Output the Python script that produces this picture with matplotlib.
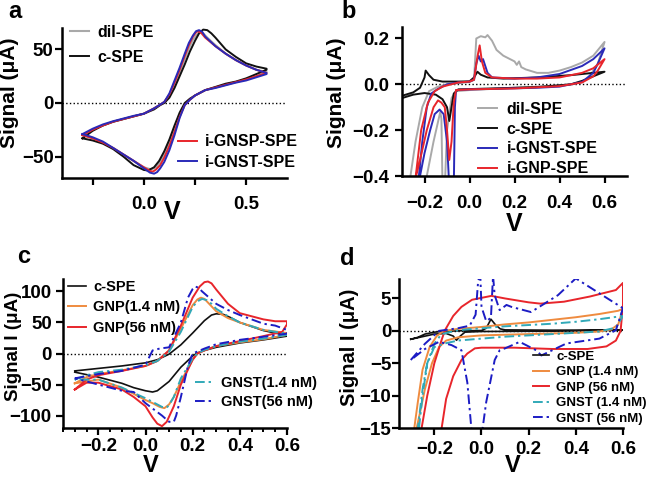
import matplotlib.pyplot as plt
from matplotlib.ticker import FixedLocator, MultipleLocator

plt.rcParams['font.family'] = ['Liberation Sans', 'DejaVu Sans']
plt.rcParams['font.weight'] = 'bold'
plt.rcParams['axes.labelweight'] = 'bold'

# ---------------------------------------------------------
# COLOURS
# ---------------------------------------------------------
GRAY = '#a9a9a9'
BLACK = '#111111'
RED = '#e8252b'
BLUE = '#2a2ab8'
ORANGE = '#ef8b3f'
CYAN = '#31a9b8'
NAVY = '#1c1cc4'

# ---------------------------------------------------------
# PANEL A DATA : (V, uA), forward then reverse scan
# ---------------------------------------------------------
a_dil_v = [-0.3, -0.25, -0.2, -0.15, -0.1, -0.05, 0.0, 0.05, 0.08, 0.1, 0.125, 0.15, 0.175, 0.2,
           0.22, 0.24, 0.26, 0.275, 0.29, 0.31, 0.35, 0.4, 0.45, 0.5, 0.55, 0.6,
           0.6, 0.55, 0.5, 0.45, 0.4, 0.35, 0.3, 0.25, 0.225, 0.2, 0.175, 0.15, 0.125, 0.1,
           0.08, 0.06, 0.035, 0.0, -0.05, -0.1, -0.15, -0.2, -0.25, -0.3]
a_dil_i = [-30, -25, -21, -17.5, -15, -12.5, -10, -5, -1.5, 1, 7, 17, 29, 41,
           51, 59, 64, 66, 65, 61, 54, 46, 40, 35, 31, 29,
           29, 25, 22, 19.5, 17, 14.5, 12, 7, 3, -1, -11, -24, -37, -48,
           -55, -60, -62, -60, -54, -48, -42, -37, -33, -30]

a_c_v = [-0.3, -0.25, -0.2, -0.15, -0.1, -0.05, 0.0, 0.05, 0.08, 0.1, 0.125, 0.15, 0.175, 0.2,
         0.225, 0.25, 0.27, 0.29, 0.31, 0.33, 0.35, 0.4, 0.45, 0.5, 0.55, 0.6,
         0.6, 0.55, 0.5, 0.45, 0.4, 0.35, 0.3, 0.25, 0.225, 0.2, 0.175, 0.15, 0.125, 0.1,
         0.075, 0.05, 0.02, 0.0, -0.05, -0.1, -0.15, -0.2, -0.25, -0.3]
a_c_i = [-33, -26, -21, -17.5, -15, -12.5, -10, -6, -2, 0, 5, 14, 25, 36,
         48, 58, 65, 68.5, 68, 65, 61, 50, 43, 37, 34, 32,
         31, 27, 23, 20, 18, 15, 12, 7, 4, 0, -9, -21, -34, -45,
         -54, -60, -63, -62.5, -58, -50, -43, -38, -35, -33]

a_gnsp_v = [-0.3, -0.25, -0.2, -0.15, -0.1, -0.05, 0.0, 0.05, 0.08, 0.1, 0.125, 0.15, 0.175, 0.2,
            0.22, 0.24, 0.255, 0.265, 0.28, 0.3, 0.35, 0.4, 0.45, 0.5, 0.55, 0.6,
            0.6, 0.55, 0.5, 0.45, 0.4, 0.35, 0.3, 0.25, 0.225, 0.2, 0.175, 0.15, 0.125, 0.1,
            0.08, 0.06, 0.045, 0.03, 0.0, -0.05, -0.1, -0.15, -0.2, -0.25, -0.3]
a_gnsp_i = [-30, -25, -21, -17.5, -15, -12.5, -10, -5, -1.5, 1, 8, 19, 31, 44,
            54, 62, 66, 67, 65.5, 61, 53, 46, 40, 35, 31, 28,
            28, 25, 22, 19.5, 17, 14.5, 12, 7, 3, -2, -13, -27, -40, -51,
            -58, -62, -64, -63.5, -60, -54, -48, -42, -37, -33, -30]

a_gnst_v = [-0.3, -0.25, -0.2, -0.15, -0.1, -0.05, 0.0, 0.05, 0.08, 0.1, 0.125, 0.15, 0.175, 0.2,
            0.22, 0.24, 0.255, 0.27, 0.285, 0.3, 0.35, 0.4, 0.45, 0.5, 0.55, 0.6,
            0.6, 0.55, 0.5, 0.45, 0.4, 0.35, 0.3, 0.25, 0.225, 0.2, 0.175, 0.15, 0.125, 0.1,
            0.08, 0.065, 0.05, 0.03, 0.0, -0.05, -0.1, -0.15, -0.2, -0.25, -0.3]
a_gnst_i = [-29, -24, -20, -17, -14.5, -12, -10, -5, -1.5, 1, 9, 21, 33, 46,
            56, 63, 67, 68, 66.5, 62, 53, 46, 40, 35, 31, 28,
            27, 24, 21, 19, 16.5, 14, 12, 7, 3, -2, -14, -30, -44, -55,
            -61, -64.5, -66, -65, -61, -54, -48, -42, -36, -32, -29]

# ---------------------------------------------------------
# PANEL B DATA
# ---------------------------------------------------------
b_dil_v = [-0.27, -0.24, -0.21, -0.18, -0.14, -0.1, -0.05, 0.0, 0.02, 0.03, 0.05, 0.07, 0.08, 0.1,
           0.12, 0.15, 0.18, 0.2, 0.21, 0.22, 0.23, 0.25, 0.3, 0.35, 0.4, 0.45, 0.5, 0.55, 0.6,
           0.6, 0.57, 0.53, 0.5, 0.45, 0.4, 0.3, 0.2, 0.1, 0.0, -0.06, -0.08, -0.1, -0.11,
           -0.12, -0.125, -0.13, -0.16, -0.2]
b_dil_i = [-0.45, -0.25, -0.1, -0.03, -0.01, 0.0, 0.005, 0.01, 0.02, 0.2, 0.21, 0.205, 0.215, 0.19,
           0.15, 0.125, 0.11, 0.1, 0.085, 0.1, 0.075, 0.065, 0.05, 0.05, 0.06, 0.075, 0.095, 0.125, 0.185,
           0.185, 0.09, 0.03, 0.01, 0.0, -0.005, -0.01, -0.015, -0.02, -0.025, -0.03, -0.06, -0.2, -0.45,
           -0.45, -0.15, -0.12, -0.25, -0.45]

b_c_v = [-0.3, -0.25, -0.22, -0.2, -0.195, -0.18, -0.16, -0.12, -0.05, 0.0, 0.02, 0.035, 0.05, 0.08,
         0.15, 0.3, 0.45, 0.6,
         0.6, 0.55, 0.5, 0.45, 0.3, 0.1, -0.05, -0.07, -0.08, -0.09, -0.1, -0.12, -0.15, -0.2, -0.25, -0.3]
b_c_i = [-0.05, -0.035, -0.015, 0.03, 0.06, 0.04, 0.02, 0.012, 0.012, 0.013, 0.03, 0.055, 0.042, 0.03,
         0.025, 0.03, 0.04, 0.055,
         0.055, 0.035, 0.015, 0.0, -0.012, -0.018, -0.022, -0.04, -0.1, -0.16, -0.1, -0.065, -0.045,
         -0.038, -0.045, -0.06]

b_gnst_v = [-0.23, -0.21, -0.19, -0.17, -0.14, -0.1, -0.05, 0.0, 0.02, 0.03, 0.04, 0.05, 0.06, 0.08,
            0.1, 0.2, 0.3, 0.4, 0.5, 0.55, 0.6,
            0.6, 0.57, 0.55, 0.5, 0.4, 0.3, 0.1, 0.0, -0.06, -0.065, -0.07, -0.09, -0.1, -0.115,
            -0.133, -0.155, -0.175, -0.2, -0.23]
b_gnst_i = [-0.45, -0.25, -0.1, -0.04, -0.02, 0.0, 0.008, 0.012, 0.02, 0.09, 0.125, 0.1, 0.11, 0.05,
            0.03, 0.025, 0.03, 0.045, 0.08, 0.11, 0.157,
            0.157, 0.09, 0.05, 0.01, -0.01, -0.015, -0.02, -0.022, -0.025, -0.1, -0.45, -0.45, -0.25,
            -0.13, -0.11, -0.13, -0.2, -0.3, -0.45]

b_gnp_v = [-0.245, -0.215, -0.185, -0.155, -0.12, -0.05, 0.0, 0.02, 0.035, 0.045, 0.055, 0.07, 0.1,
           0.2, 0.3, 0.4, 0.5, 0.55, 0.6,
           0.6, 0.57, 0.55, 0.5, 0.4, 0.2, 0.0, -0.06, -0.07, -0.08, -0.09, -0.1, -0.11, -0.125,
           -0.14, -0.16, -0.19, -0.22, -0.25]
b_gnp_i = [-0.45, -0.2, -0.08, -0.03, -0.01, 0.008, 0.012, 0.02, 0.12, 0.17, 0.1, 0.05, 0.03,
           0.025, 0.025, 0.03, 0.05, 0.07, 0.11,
           0.11, 0.06, 0.035, 0.008, -0.008, -0.018, -0.022, -0.025, -0.08, -0.25, -0.33, -0.2, -0.1,
           -0.08, -0.07, -0.1, -0.2, -0.33, -0.45]

# ---------------------------------------------------------
# PANEL C DATA
# ---------------------------------------------------------
c_c_v = [-0.3, -0.2, -0.1, 0.0, 0.05, 0.1, 0.15, 0.2, 0.25, 0.28, 0.3, 0.33, 0.36, 0.4, 0.5, 0.6,
         0.6, 0.5, 0.4, 0.3, 0.25, 0.22, 0.2, 0.15, 0.1, 0.05, 0.03, 0.0, -0.05, -0.1, -0.2, -0.3]
c_c_i = [-28, -24, -20, -15, -10, -1, 14, 33, 53, 62, 64, 63, 58, 50, 37, 29,
         28, 22, 17, 10, 5, 1, -4, -22, -45, -60, -62, -60, -55, -48, -38, -30]

c_gnp14_v = [-0.3, -0.25, -0.2, -0.1, 0.0, 0.05, 0.1, 0.15, 0.2, 0.22, 0.235, 0.25, 0.27, 0.3, 0.35,
             0.4, 0.5, 0.6,
             0.6, 0.5, 0.4, 0.3, 0.25, 0.22, 0.2, 0.15, 0.12, 0.1, 0.08, 0.06, 0.03, 0.0, -0.1,
             -0.2, -0.3]
c_gnp14_i = [-48, -38, -33, -27, -20, -12, 5, 40, 78, 87, 90, 88, 80, 68, 57,
             50, 38, 33,
             30, 23, 18, 12, 5, 0, -10, -45, -70, -82, -88, -86, -80, -75, -55,
             -42, -48]

c_gnp56_v = [-0.3, -0.25, -0.2, -0.1, 0.0, 0.05, 0.1, 0.15, 0.2, 0.23, 0.25, 0.265, 0.28, 0.3,
             0.35, 0.4, 0.5, 0.55, 0.6,
             0.6, 0.58, 0.5, 0.4, 0.3, 0.25, 0.22, 0.2, 0.15, 0.12, 0.09, 0.07, 0.05, 0.03, 0.0,
             -0.05, -0.1, -0.2, -0.25, -0.3]
c_gnp56_i = [-58, -42, -35, -28, -20, -12, 5, 45, 90, 108, 115, 116, 113, 103,
             80, 65, 55, 52, 52,
             47, 35, 28, 20, 12, 5, 0, -10, -50, -85, -110, -117, -113, -103, -85,
             -70, -58, -47, -47, -58]

c_gnst14_v = [-0.3, -0.25, -0.2, -0.1, 0.0, 0.05, 0.1, 0.15, 0.2, 0.22, 0.24, 0.26, 0.28, 0.3,
              0.35, 0.4, 0.5, 0.6,
              0.6, 0.5, 0.4, 0.3, 0.25, 0.22, 0.2, 0.15, 0.12, 0.1, 0.09, 0.07, 0.05, 0.0, -0.1,
              -0.2, -0.3]
c_gnst14_i = [-42, -35, -30, -26, -19, -12, 3, 35, 75, 84, 88, 86, 80, 72,
              60, 50, 38, 32,
              30, 24, 19, 12, 6, 0, -8, -40, -70, -83, -87, -86, -82, -72, -55,
              -42, -42]

c_gnst56_v = [-0.3, -0.2, -0.1, 0.0, 0.03, 0.06, 0.1, 0.15, 0.18, 0.2, 0.21, 0.225, 0.24, 0.3,
              0.35, 0.4, 0.5, 0.55, 0.6,
              0.6, 0.5, 0.4, 0.3, 0.25, 0.2, 0.18, 0.15, 0.13, 0.12, 0.1, 0.07, 0.0, -0.05,
              -0.1, -0.2, -0.3]
c_gnst56_i = [-40, -33, -28, -18, 5, 8, 10, 50, 90, 104, 108, 106, 100, 80,
              70, 62, 48, 45, 38,
              32, 27, 22, 15, 8, 0, -20, -70, -100, -110, -110, -100, -80, -62,
              -60, -50, -40]

# ---------------------------------------------------------
# PANEL D DATA
# ---------------------------------------------------------
d_c_v = [-0.3, -0.27, -0.24, -0.2, -0.15, -0.1, 0.0, 0.02, 0.04, 0.06, 0.08, 0.1, 0.3, 0.6,
         0.6, 0.3, 0.0, -0.07, -0.09, -0.106, -0.12, -0.15, -0.2, -0.25, -0.3]
d_c_i = [-1.3, -1.0, -0.5, -0.2, -0.05, 0.0, 0.05, 0.4, 1.8, 0.9, 0.3, 0.15, 0.1, 0.15,
         0.1, -0.05, -0.1, -0.2, -0.8, -1.45, -0.8, -0.4, -0.5, -0.9, -1.3]

d_gnp14_v = [-0.285, -0.27, -0.25, -0.22, -0.19, -0.16, -0.1, 0.0, 0.1, 0.2, 0.3, 0.4, 0.5, 0.58, 0.6,
             0.6, 0.58, 0.55, 0.5, 0.4, 0.2, 0.0, -0.1, -0.15, -0.18, -0.21, -0.24, -0.26, -0.275]
d_gnp14_i = [-15, -11, -6, -2.5, -0.8, 0.0, 0.3, 0.6, 1.0, 1.3, 1.7, 2.1, 2.6, 3.1, 3.4,
             3.4, 1.0, 0.2, -0.1, -0.3, -0.5, -0.7, -1.0, -1.5, -2.5, -5, -9, -12.5, -15]

d_gnp56_v = [-0.254, -0.23, -0.2, -0.17, -0.155, -0.12, -0.085, -0.04, 0.042, 0.1, 0.2, 0.25, 0.35,
             0.46, 0.57, 0.6, 0.6, 0.59, 0.57, 0.53, 0.45, 0.3, 0.14, 0.0, -0.028, -0.06, -0.085,
             -0.12, -0.15, -0.169]
d_gnp56_i = [-15, -10, -5, -1.5, 0.1, 2.3, 3.7, 4.8, 5.4, 5.0, 4.4, 4.2, 4.5,
             5.3, 6.3, 7.4, 4, 0, -1.5, -2.4, -2.8, -2.8, -2.6, -2.6, -2.7, -3.5, -4.5,
             -7, -10.5, -15]

d_gnst14_v = [-0.265, -0.25, -0.23, -0.2, -0.17, -0.1, 0.0, 0.1, 0.2, 0.3, 0.4, 0.5, 0.6,
              0.6, 0.57, 0.5, 0.3, 0.1, 0.0, -0.1, -0.15, -0.2, -0.23, -0.25, -0.27]
d_gnst14_i = [-15, -10, -5, -2, -0.5, 0.1, 0.4, 0.7, 0.9, 1.1, 1.4, 1.8, 2.3,
              2.3, 0.5, -0.1, -0.5, -0.9, -1.2, -1.5, -1.9, -2.5, -5, -9, -15]

d_gnst56_v = [-0.3, -0.24, -0.18, -0.1, -0.05, -0.025, -0.014, -0.005, 0.0, 0.02, 0.04, 0.049, 0.056,
              0.077, 0.106, 0.127, 0.21, 0.324, 0.40, 0.578, 0.6,
              0.57, 0.5, 0.36, 0.254, 0.232, 0.162, 0.1, 0.077, 0.056, 0.02, 0.003, -0.02, -0.042,
              -0.06, -0.085, -0.127, -0.18, -0.24, -0.3]
d_gnst56_i = [-4.5, -2.0, 0.0, 0.4, 0.8, 2.5, 7.8, 8.5, 3.7, 1.5, 2.0, 8.5, 5.5,
              3.2, 4.0, 3.7, 2.9, 5.5, 8.1, 4.0, 3.5,
              0.1, -1.2, -1.95, -3.8, -3.0, -1.7, -2.7, -3.0, -4.5, -11, -15.5, -18, -15.5,
              -8, -3.0, -2.2, -1.7, -2.8, -4.5]

DASHDOT = (0, (5, 2, 1.2, 2))
TICK_FS = 13.5
LEG_KW = dict(frameon=False, borderpad=0, borderaxespad=0, handlelength=1.2)


def style_axes(ax, xpad, ypad):
    for side in ['top', 'right']:
        ax.spines[side].set_visible(False)
    for side in ['left', 'bottom']:
        ax.spines[side].set_linewidth(1.8)
    ax.tick_params(which='major', direction='out', length=5, width=1.6, labelsize=TICK_FS)
    ax.tick_params(which='minor', direction='out', length=3, width=1.4)
    ax.tick_params(axis='x', which='major', pad=xpad)
    ax.tick_params(axis='y', which='major', pad=ypad)
    ax.axhline(0, color='black', linestyle=':', linewidth=1.0, zorder=0)


fig = plt.figure(figsize=(6.5, 4.8), dpi=100)

# ---------------------------------------------------------
# PANEL A
# ---------------------------------------------------------
ax = fig.add_axes([0.0954, 0.6292, 0.3462, 0.3125])
style_axes(ax, 8, 1)
l1, = ax.plot(a_dil_v, a_dil_i, color=GRAY, lw=1.5, label='dil-SPE')
l2, = ax.plot(a_c_v, a_c_i, color=BLACK, lw=1.4, label='c-SPE')
l3, = ax.plot(a_gnsp_v, a_gnsp_i, color=RED, lw=1.4, label='i-GNSP-SPE')
l4, = ax.plot(a_gnst_v, a_gnst_i, color=BLUE, lw=1.4, label='i-GNST-SPE')
ax.set_xlim(-0.4, 0.7)
ax.set_ylim(-70, 70)
ax.xaxis.set_major_locator(FixedLocator([0.0, 0.5]))
ax.xaxis.set_minor_locator(FixedLocator([-0.25, 0.25]))
ax.tick_params(axis='x', which='minor', length=5, width=1.6)
ax.set_xticklabels(['0.0', '0.5'])
ax.set_yticks([-50, 0, 50])
ax.set_xlabel('V', fontsize=18)
ax.set_ylabel('Signal (μA)', fontsize=15)
ax.yaxis.set_label_coords(-0.19, 0.57)
ax.xaxis.set_label_coords(0.49, -0.15)
leg = ax.legend(handles=[l1, l2], loc='upper left', bbox_to_anchor=(0.108, 0.948),
                bbox_transform=fig.transFigure, fontsize=11.5, handletextpad=0.5,
                labelspacing=0.62, **LEG_KW)
ax.add_artist(leg)
ax.legend(handles=[l3, l4], loc='upper left', bbox_to_anchor=(0.274, 0.72),
          bbox_transform=fig.transFigure, fontsize=11.5, handletextpad=0.5,
          labelspacing=0.32, **LEG_KW)

# ---------------------------------------------------------
# PANEL B
# ---------------------------------------------------------
ax = fig.add_axes([0.6185, 0.6333, 0.3462, 0.3104])
style_axes(ax, 9, 4)
l1, = ax.plot(b_dil_v, b_dil_i, color=GRAY, lw=1.4, label='dil-SPE')
l2, = ax.plot(b_c_v, b_c_i, color=BLACK, lw=1.4, label='c-SPE')
l3, = ax.plot(b_gnst_v, b_gnst_i, color=BLUE, lw=1.4, label='i-GNST-SPE')
l4, = ax.plot(b_gnp_v, b_gnp_i, color=RED, lw=1.4, label='i-GNP-SPE')
ax.set_xlim(-0.3, 0.7)
ax.set_ylim(-0.4, 0.25)
ax.set_xticks([-0.2, 0.0, 0.2, 0.4, 0.6])
ax.set_yticks([-0.4, -0.2, 0.0, 0.2])
ax.set_xlabel('V', fontsize=18)
ax.set_ylabel('Signal (μA)', fontsize=15)
ax.yaxis.set_label_coords(-0.25, 0.56)
ax.xaxis.set_label_coords(0.5, -0.24)
ax.legend(handles=[l1, l2, l3, l4], loc='upper left', bbox_to_anchor=(0.735, 0.788),
          bbox_transform=fig.transFigure, fontsize=11.5, handletextpad=0.6,
          labelspacing=0.3, **LEG_KW)

# ---------------------------------------------------------
# PANEL C
# ---------------------------------------------------------
ax = fig.add_axes([0.0969, 0.1083, 0.3446, 0.3104])
style_axes(ax, 2, 3)
l1, = ax.plot(c_c_v, c_c_i, color=BLACK, lw=1.2, label='c-SPE')
l2, = ax.plot(c_gnp14_v, c_gnp14_i, color=ORANGE, lw=1.4, label='GNP(1.4 nM)')
l3, = ax.plot(c_gnp56_v, c_gnp56_i, color=RED, lw=1.4, label='GNP(56 nM)')
l4, = ax.plot(c_gnst14_v, c_gnst14_i, color=CYAN, lw=1.4, ls=DASHDOT, label='GNST(1.4 nM)')
l5, = ax.plot(c_gnst56_v, c_gnst56_i, color=NAVY, lw=1.4, ls=DASHDOT, label='GNST(56 nM)')
ax.set_xlim(-0.35, 0.6)
ax.set_ylim(-120, 120)
ax.set_xticks([-0.2, 0.0, 0.2, 0.4, 0.6])
ax.xaxis.set_minor_locator(MultipleLocator(0.05))
ax.set_yticks([-100, -50, 0, 50, 100])
ax.set_xlabel('V', fontsize=17)
ax.set_ylabel('Signal I (μA)', fontsize=13.5)
ax.yaxis.set_label_coords(-0.185, 0.55)
ax.xaxis.set_label_coords(0.39, -0.172)
leg = ax.legend(handles=[l1, l2, l3], loc='upper left', bbox_to_anchor=(0.105, 0.417),
                bbox_transform=fig.transFigure, fontsize=10.5, handletextpad=0.5,
                labelspacing=0.45, **LEG_KW)
ax.add_artist(leg)
ax.legend(handles=[l4, l5], loc='upper left', bbox_to_anchor=(0.3, 0.217),
          bbox_transform=fig.transFigure, fontsize=10.5, handletextpad=0.6,
          labelspacing=0.35, **LEG_KW)

# ---------------------------------------------------------
# PANEL D
# ---------------------------------------------------------
ax = fig.add_axes([0.6138, 0.1083, 0.3446, 0.3104])
style_axes(ax, 4, 0.5)
l1, = ax.plot(d_c_v, d_c_i, color=BLACK, lw=1.2, label='c-SPE')
l2, = ax.plot(d_gnp14_v, d_gnp14_i, color=ORANGE, lw=1.4, label='GNP (1.4 nM)')
l3, = ax.plot(d_gnp56_v, d_gnp56_i, color=RED, lw=1.4, label='GNP (56 nM)')
l4, = ax.plot(d_gnst14_v, d_gnst14_i, color=CYAN, lw=1.4, ls=DASHDOT, label='GNST (1.4 nM)')
l5, = ax.plot(d_gnst56_v, d_gnst56_i, color=NAVY, lw=1.4, ls=DASHDOT, label='GNST (56 nM)')
ax.set_xlim(-0.35, 0.6)
ax.set_ylim(-15, 8)
ax.set_xticks([-0.2, 0.0, 0.2, 0.4, 0.6])
ax.set_yticks([-15, -10, -5, 0, 5])
ax.set_xlabel('V', fontsize=17)
ax.set_ylabel('Signal I (μA)', fontsize=14.5)
ax.yaxis.set_label_coords(-0.18, 0.54)
ax.xaxis.set_label_coords(0.51, -0.172)
ax.legend(handles=[l1, l2, l3, l4, l5], loc='upper left', bbox_to_anchor=(0.82, 0.27),
          bbox_transform=fig.transFigure, fontsize=9.5, handletextpad=0.55,
          labelspacing=0.25, **LEG_KW)

# ---------------------------------------------------------
# PANEL LETTERS
# ---------------------------------------------------------
fig.text(0.012, 0.9625, 'a', fontsize=17, fontweight='bold')
fig.text(0.526, 0.9625, 'b', fontsize=17, fontweight='bold')
fig.text(0.026, 0.452, 'c', fontsize=17, fontweight='bold')
fig.text(0.523, 0.448, 'd', fontsize=17, fontweight='bold')

fig.savefig('out.png', dpi=100)
